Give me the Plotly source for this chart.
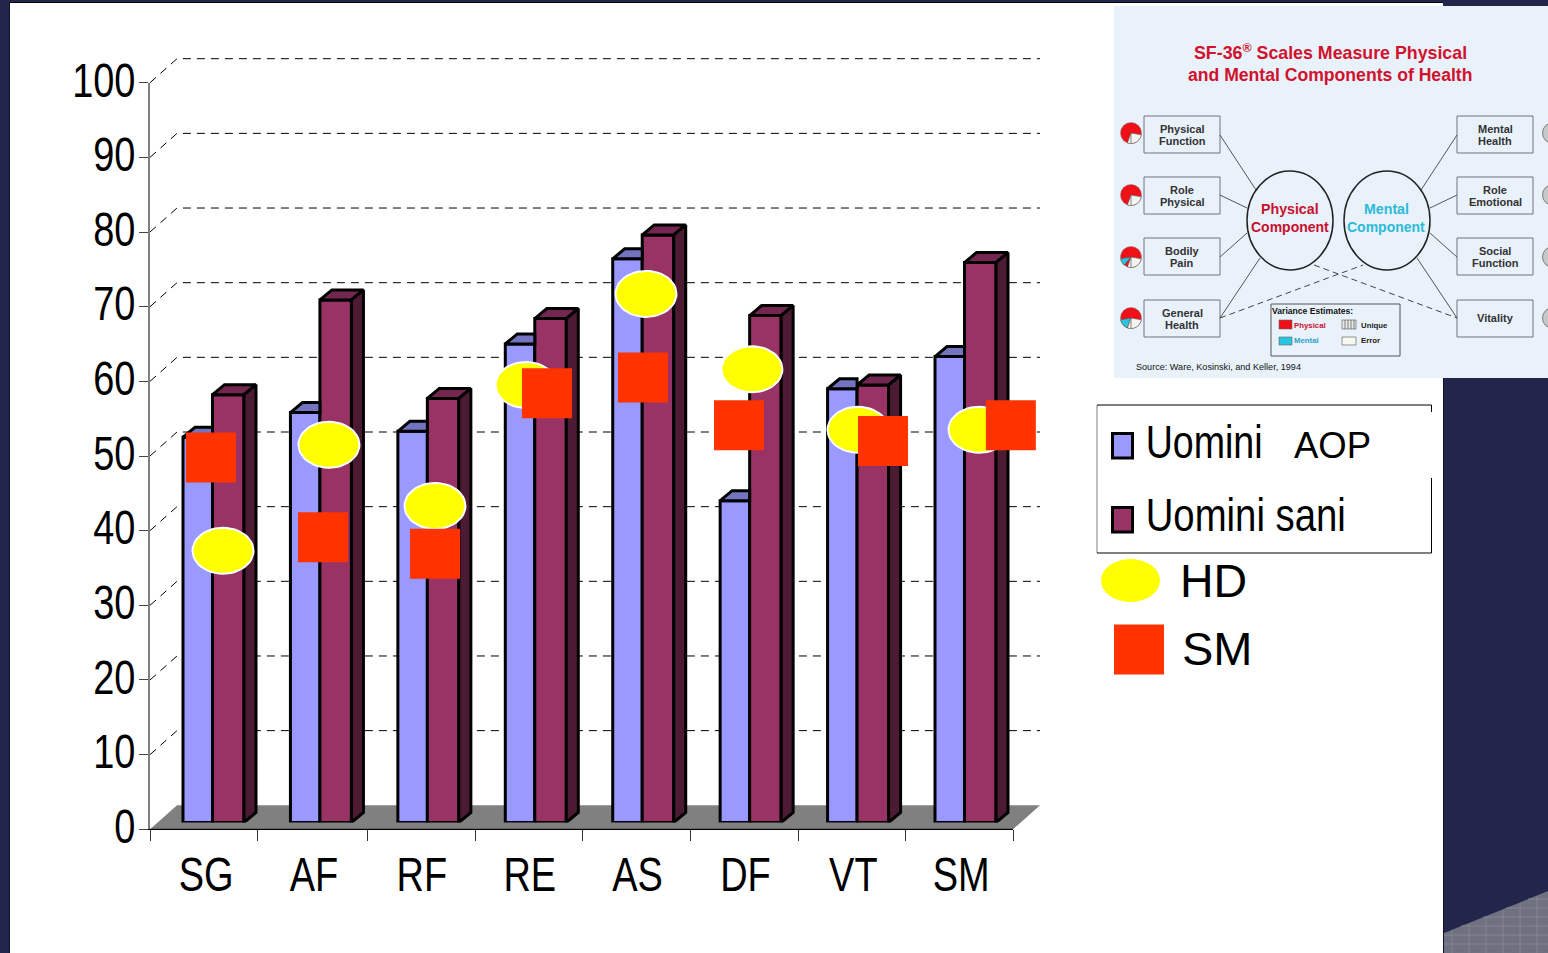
import math
import plotly.graph_objects as go

W, H = 1548, 953

# Chart data
categories = ["SG", "AF", "RF", "RE", "AS", "DF", "VT", "SM"]
aop_values = [51.6, 54.9, 52.4, 64.1, 75.5, 43.1, 58.1, 62.4]
healthy_values = [57.3, 70.0, 56.8, 67.5, 78.7, 67.9, 58.6, 75.0]
hd_values = [36.4, 50.6, 42.4, 58.6, 70.8, 60.7, 52.6, 52.6]
hd_slots = [0.677, 1.659, 2.642, 3.486, 4.598, 5.58, 6.563, 7.685]
sm_values = [48.9, 38.2, 36.0, 57.5, 59.6, 53.2, 51.1, 53.2]
sm_slots = [0.565, 1.604, 2.642, 3.68, 4.57, 5.46, 6.795, 7.98]
y_ticks = list(range(0, 101, 10))
x_boundaries = [0, 0.992, 2.02, 3.02, 4.01, 5.006, 6.007, 7.008, 8]

NAVY = "#22264A"
BLUE, BLUE_TOP = "#9999FF", "#7373BF"
PLUM, PLUM_TOP, PLUM_SIDE = "#993366", "#732650", "#4D1A33"
SANS = "Liberation Sans, Arial"

# Plot geometry, in pixels
AX_L, AX_R = 150, 1013
AX_0, AX_100 = 829.3, 82.7
BAR_0 = 822.5
UX = (AX_R - AX_L) / 8
UY = (AX_0 - AX_100) / 100
AOP_W = 29.5 / UX
HEALTHY_W = 31.5 / UX
BAR_START = 33 / UX
BAR_STEP = 107.43 / UX
DEPTH_X, DEPTH_Y = 12 / UX, 10 / UY
BACK_PX_X, BACK_PX_Y = 27, 24


def px(x):
    return x / W


def py(y):
    return 1 - y / H


shapes, notes = [], []


def rect(x0, y0, x1, y1, fill=None, line=None, lw=1, layer="below"):
    shapes.append(dict(type="rect", xref="paper", yref="paper", x0=px(x0), x1=px(x1),
                       y0=py(y0), y1=py(y1), fillcolor=fill or "rgba(0,0,0,0)",
                       line=dict(color=line or "rgba(0,0,0,0)", width=lw if line else 0),
                       layer=layer))


def seg(x0, y0, x1, y1, color="#444444", lw=1, dash="solid", layer="below"):
    shapes.append(dict(type="line", xref="paper", yref="paper", x0=px(x0), x1=px(x1),
                       y0=py(y0), y1=py(y1), line=dict(color=color, width=lw, dash=dash),
                       layer=layer))


def oval(cx, cy, rx, ry, fill=None, line=None, lw=1, layer="below"):
    shapes.append(dict(type="circle", xref="paper", yref="paper", x0=px(cx - rx), x1=px(cx + rx),
                       y0=py(cy + ry), y1=py(cy - ry), fillcolor=fill or "rgba(0,0,0,0)",
                       line=dict(color=line or "rgba(0,0,0,0)", width=lw if line else 0),
                       layer=layer))


def label(x, y, text, size, color="#000000", font=SANS, anchor="center"):
    notes.append(dict(xref="paper", yref="paper", x=px(x), y=py(y), text=text, showarrow=False,
                      xanchor=anchor, yanchor="middle", align="center",
                      font=dict(family=font, size=size, color=color),
                      borderpad=0, borderwidth=0))


def wedge(cx, cy, r, a0, a1, fill):
    pts = [f"M {px(cx)} {py(cy)}"]
    for k in range(13):
        a = math.radians(a0 + (a1 - a0) * k / 12)
        pts.append(f"L {px(cx + r * math.sin(a))} {py(cy - r * math.cos(a))}")
    shapes.append(dict(type="path", xref="paper", yref="paper", path=" ".join(pts) + " Z",
                       fillcolor=fill, line=dict(color="#555555", width=0.6), layer="below"))


# Slide background
rect(10, 3, 1443, 953, fill="#FFFFFF")
seg(9, 2.5, 1443, 2.5, color="#000000", lw=1)
seg(9.5, 3, 9.5, 953, color="#10122A", lw=1)
seg(1443.5, 378, 1443.5, 953, color="#10122A", lw=1)
shapes.append(dict(type="path", xref="paper", yref="paper", layer="below",
                   path=f"M {px(1444)} {py(933)} L {px(1548)} {py(891)} L {px(1548)} {py(953)} L {px(1444)} {py(953)} Z",
                   fillcolor="#6F7180", line=dict(width=0)))
for gx in range(1452, 1548, 17):
    seg(gx, 933 - (gx - 1444) * 42 / 104 + 1, gx, 953, color="#84858F", lw=1)
for gy in range(899, 953, 9):
    start = max(1444, 1444 + (933 - gy) * 104 / 42)
    seg(start, gy, 1548, gy, color="#84858F", lw=1)

# Inset diagram of the SF-36 scales
INK = "#333333"
rect(1114, 6, 1548, 378, fill="#E9F1FB")
label(1330, 52, "<b>SF-36<sup>®</sup> Scales Measure Physical</b>", 17.8, "#D0122C")
label(1330, 75, "<b>and Mental Components of Health</b>", 17.6, "#D0122C")

left_boxes = [("Physical", "Function", 116), ("Role", "Physical", 177), ("Bodily", "Pain", 238), ("General", "Health", 300)]
right_boxes = [("Mental", "Health", 116), ("Role", "Emotional", 177), ("Social", "Function", 238), ("Vitality", "", 300)]
for bx, boxes in ((1144, left_boxes), (1457, right_boxes)):
    for first, second, top in boxes:
        rect(bx, top, bx + 76, top + 37, fill="#E9F1FB", line="#70757F", lw=1)
        cx = bx + 38
        if second:
            label(cx, top + 13, f"<b>{first}</b>", 11, INK)
            label(cx, top + 25, f"<b>{second}</b>", 11, INK)
        else:
            label(cx, top + 18, f"<b>{first}</b>", 11, INK)

for x0, y0, x1, y1 in [(1220, 135, 1256, 190), (1220, 195, 1247, 208), (1220, 257, 1247, 233), (1220, 318, 1260, 258),
                       (1457, 135, 1421, 190), (1457, 195, 1430, 208), (1457, 257, 1430, 233), (1457, 318, 1417, 258)]:
    seg(x0, y0, x1, y1, color="#555555", lw=1)
seg(1220, 318, 1363, 265, color="#444444", lw=1, dash="6px,4px")
seg(1314, 265, 1457, 318, color="#444444", lw=1, dash="6px,4px")
oval(1290, 220.5, 43, 49.5, line="#222222", lw=1.5)
oval(1387, 220.5, 43, 49.5, line="#222222", lw=1.5)
label(1290, 209, "<b>Physical</b>", 14.2, "#C8102E")
label(1290, 227, "<b>Component</b>", 14, "#C8102E")
label(1386, 209, "<b>Mental</b>", 14.2, "#2BBBD6")
label(1386, 227, "<b>Component</b>", 14, "#2BBBD6")

# Small pie glyphs next to each scale
for cy, cyan in [(133, 0), (195, 0), (257, 40), (318, 60)]:
    oval(1131, cy, 10.5, 10.5, fill="#F01018", line="#777777", lw=0.5)
    if cyan:
        wedge(1131, cy, 10.5, 260 - cyan, 260, "#28C4E0")
    wedge(1131, cy, 10.5, 100, 200, "#F4F4F0")
    seg(1131, cy, 1131, cy + 10, color="#555555", lw=0.7)
for cy in (133, 195, 257, 318):
    oval(1553, cy, 10.5, 10.5, fill="#C8C8C8", line="#555555", lw=0.7)

rect(1271, 304, 1400, 356, fill="#E9F1FB", line="#555555", lw=1)
label(1272, 311, "<b>Variance Estimates:</b>", 8.6, "#111111", anchor="left")
rect(1279, 320, 1292, 329, fill="#F01018", line="#666666", lw=0.6)
label(1294, 325, "<b>Physical</b>", 7.8, "#C8102E", anchor="left")
rect(1279, 337, 1292, 345, fill="#28C4E0", line="#666666", lw=0.6)
label(1294, 341, "<b>Mental</b>", 7.8, "#2BA4C6", anchor="left")
rect(1342, 320, 1356, 329, fill="#E8E8E8", line="#555555", lw=0.6)
for sx in (1345, 1348, 1351, 1354):
    seg(sx, 320, sx, 329, color="#555555", lw=0.7)
label(1361, 325, "<b>Unique</b>", 7.8, "#222222", anchor="left")
rect(1342, 337, 1356, 345, fill="#F8F8F0", line="#555555", lw=0.6)
label(1361, 341, "<b>Error</b>", 7.8, "#222222", anchor="left")
label(1136, 367, "Source: Ware, Kosinski, and Keller, 1994", 9.1, "#111111", anchor="left")

# Legend box with its break on the right side
seg(1097, 405, 1097, 553, color="#808080", lw=1)
seg(1097, 405, 1431.5, 405, color="#000000", lw=1)
seg(1097, 553, 1431.5, 553, color="#000000", lw=1)
seg(1431.5, 405, 1431.5, 412, color="#000000", lw=1)
seg(1431.5, 478, 1431.5, 553, color="#000000", lw=1)
rect(1112.5, 433.5, 1132.5, 458, fill=BLUE, line="#000000", lw=3)
rect(1112.5, 507.5, 1132.5, 532, fill=PLUM, line="#000000", lw=3)
label(1131, 441, "Uomini", 47, anchor="left")
label(1294, 445, "AOP", 36.5, anchor="left")
label(1123, 514, "Uomini sani", 47, anchor="left")
oval(1130.5, 580.5, 29.5, 21.5, fill="#FFFF00")
label(1180, 581, "HD", 46.5, anchor="left")
rect(1114, 624.5, 1164, 674.5, fill="#FF3300")
label(1182, 648, "SM", 47, anchor="left")


def plane_x(u):
    return AX_L + u * UX


def plane_y(v):
    return AX_0 - v * UY


# Floor and back wall gridlines of the 3D plot
shapes.append(dict(type="path", xref="paper", yref="paper", layer="below",
                   path=(f"M {px(plane_x(0))} {py(plane_y(0))} "
                         f"L {px(plane_x(0) + BACK_PX_X)} {py(plane_y(0) - BACK_PX_Y)} "
                         f"L {px(plane_x(8) + BACK_PX_X)} {py(plane_y(0) - BACK_PX_Y)} "
                         f"L {px(plane_x(8))} {py(plane_y(0))} Z"),
                   fillcolor="#808080", line=dict(width=0)))
for v in y_ticks[1:]:
    shapes.append(dict(type="path", xref="paper", yref="paper", layer="below",
                       path=(f"M {px(plane_x(0))} {py(plane_y(v))} "
                             f"L {px(plane_x(0) + BACK_PX_X)} {py(plane_y(v) - BACK_PX_Y)} "
                             f"L {px(plane_x(8) + BACK_PX_X)} {py(plane_y(v) - BACK_PX_Y)}"),
                       line=dict(color="#000000", width=1, dash="8px,6px")))


def box_faces(starts, values, width, hide_side):
    """Top and side parallelograms for each bar, in data coordinates."""
    tx, ty, sx, sy = [], [], [], []
    for x0, v in zip(starts, values):
        x1 = x0 + width
        tx += [x0, x0 + DEPTH_X, x1 + (0 if hide_side else DEPTH_X), x1, x0, None]
        ty += [v, v + DEPTH_Y, v + DEPTH_Y, v, v, None]
        sx += [x1, x1 + DEPTH_X, x1 + DEPTH_X, x1, x1, None]
        sy += [v, v + DEPTH_Y, DEPTH_Y, 0, v, None]
    return tx, ty, sx, sy


aop_x = [BAR_START + i * BAR_STEP for i in range(8)]
healthy_x = [x + AOP_W for x in aop_x]
aop_tx, aop_ty, _, _ = box_faces(aop_x, aop_values, AOP_W, True)
plum_tx, plum_ty, plum_sx, plum_sy = box_faces(healthy_x, healthy_values, HEALTHY_W, False)


def face(xs, ys, fill):
    return go.Scatter(x=xs, y=ys, xaxis="x", yaxis="y2", mode="lines", fill="toself",
                      fillcolor=fill, line=dict(color="#000000", width=3), cliponaxis=False,
                      showlegend=False, hoverinfo="skip")


fig = go.Figure()
# The front axis plane carries the baseline, so its y axis stays on the page.
fig.add_trace(go.Scatter(x=[0, 8], y=[0, 0], xaxis="x", yaxis="y", mode="lines", cliponaxis=False,
                         line=dict(color="#000000", width=1), showlegend=False, hoverinfo="skip"))
fig.add_trace(go.Bar(x=aop_x, y=aop_values, width=AOP_W, offset=0, xaxis="x", yaxis="y2", name="Uomini AOP",
                     marker=dict(color=BLUE, line=dict(color="#000000", width=3)),
                     cliponaxis=False, showlegend=False))
fig.add_trace(go.Bar(x=healthy_x, y=healthy_values, width=HEALTHY_W, offset=0, xaxis="x", yaxis="y2", name="Uomini sani",
                     marker=dict(color=PLUM, line=dict(color="#000000", width=3)),
                     cliponaxis=False, showlegend=False))
fig.add_trace(face(aop_tx, aop_ty, BLUE_TOP))
fig.add_trace(face(plum_tx, plum_ty, PLUM_TOP))
fig.add_trace(face(plum_sx, plum_sy, PLUM_SIDE))

# HD ellipses and SM squares
HD_RX, HD_RY = 30.5 / UX, 23 / UY
ex, ey = [], []
for slot, v in zip(hd_slots, hd_values):
    for k in range(49):
        a = 2 * math.pi * k / 48
        ex.append(slot + HD_RX * math.cos(a))
        ey.append(v + HD_RY * math.sin(a))
    ex.append(None)
    ey.append(None)
fig.add_trace(go.Scatter(x=ex, y=ey, xaxis="x", yaxis="y2", mode="lines", fill="toself", name="HD",
                         fillcolor="#FFFF00", line=dict(color="#FFFFFF", width=2), showlegend=False,
                         cliponaxis=False, hoverinfo="skip"))
fig.add_trace(go.Scatter(x=sm_slots, y=sm_values, xaxis="x", yaxis="y2", mode="markers", name="SM",
                         marker=dict(symbol="square", size=50, color="#FF3300", line=dict(width=0)),
                         showlegend=False, cliponaxis=False))

fig.update_layout(
    template="none",
    width=W, height=H, margin=dict(l=0, r=0, t=0, b=0, pad=0), autosize=False,
    paper_bgcolor=NAVY, plot_bgcolor="rgba(0,0,0,0)", barmode="overlay",
    shapes=shapes, annotations=notes, showlegend=False,
    xaxis=dict(domain=[px(AX_L), px(AX_R)], range=[0, 8], anchor="y", showgrid=False, zeroline=False,
               automargin=False,
               tickmode="array", tickvals=[i + 0.52 for i in range(8)], ticktext=categories,
               ticks="", ticklabelstandoff=3, tickfont=dict(family=SANS, size=48, color="#000000"),
               showline=True, linecolor="#000000", linewidth=1,
               minor=dict(tickmode="array", tickvals=x_boundaries, ticks="outside", ticklen=11,
                          tickcolor="#333333", tickwidth=1, showgrid=False)),
    yaxis=dict(domain=[py(AX_0), py(AX_100)], range=[0, 100], anchor="x", showgrid=False, zeroline=False,
               automargin=False,
               tickmode="array", tickvals=y_ticks, ticks="outside", ticklen=9, tickcolor="#444444", tickwidth=1,
               tickfont=dict(family=SANS, size=48, color="#000000"), ticklabelstandoff=-6,
               showline=True, linecolor="#808080", linewidth=2),
    yaxis2=dict(domain=[py(BAR_0), py(BAR_0 - 100 * UY)], range=[0, 100], anchor="x", visible=False,
                automargin=False),
)

# The axis and series labels use a condensed cut of the sans face.
CONDENSE = """
var gd = document.getElementById('{plot_id}');
function squeeze(node, ratio) {
  var len = node.getComputedTextLength();
  node.setAttribute('textLength', len * ratio);
  node.setAttribute('lengthAdjust', 'spacingAndGlyphs');
}
gd.querySelectorAll('.xtick text').forEach(function (t) { squeeze(t, 0.79); });
gd.querySelectorAll('.ytick text').forEach(function (t) { squeeze(t, 0.79); t.setAttribute('dy', -3); });
gd.querySelectorAll('.annotation-text').forEach(function (t) {
  if (t.textContent === 'Uomini') { squeeze(t, 0.80); }
  if (t.textContent === 'Uomini sani') { squeeze(t, 0.815); }
});
"""

fig.write_html("out.html", config={"displayModeBar": False}, post_script=CONDENSE)
